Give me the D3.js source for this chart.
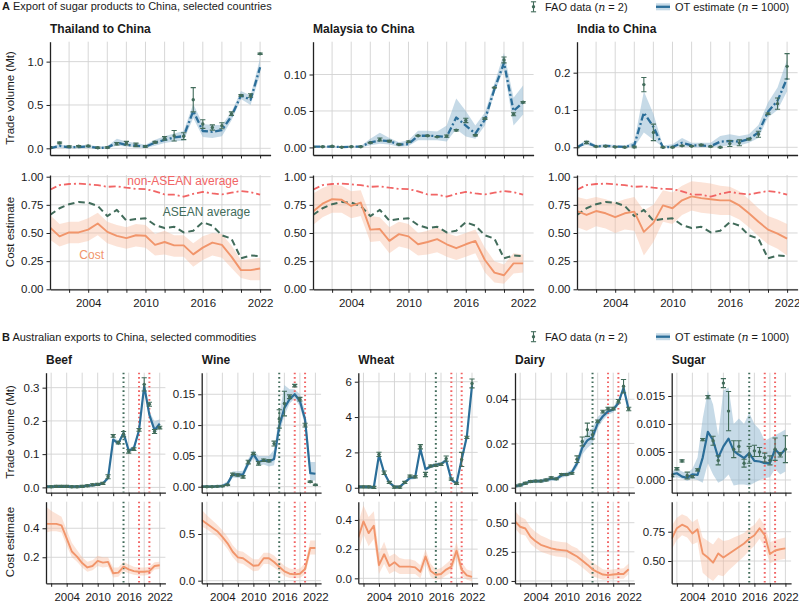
<!DOCTYPE html>
<html><head><meta charset="utf-8">
<script src="https://cdn.jsdelivr.net/npm/d3@7"></script>
<style>body{margin:0;background:#fff}svg{display:block}text{font-family:"Liberation Sans",Arial,Helvetica,sans-serif;fill:#1a1a1a}</style>
</head><body><svg id="c" width="799" height="602"></svg>
<script>
// ---------------- DATA ----------------
const years = [2000,2001,2002,2003,2004,2005,2006,2007,2008,2009,2010,2011,2012,2013,2014,2015,2016,2017,2018,2019,2020,2021,2022];
const labelYears = [2004,2010,2016,2022];
const ticksA = [2002,2004,2006,2008,2010,2012,2014,2016,2018,2020,2022];
const ticksB = [2001,2004,2007,2010,2013,2016,2019,2022];
const policyGreen = [2015];
const policyRed = [2018,2020];

// Panel A: trade volume (Mt)
const thaiFao = [0.01,0.062,0.02,0.025,0.028,0.006,0.01,0.053,0.06,0.04,0.022,0.07,0.115,0.145,0.14,0.56,0.28,0.24,0.26,0.40,0.61,0.61,1.09];
const thaiErr = [0.01,0.01,0.008,0.008,0.008,0.008,0.008,0.015,0.02,0.02,0.01,0.01,0.02,0.06,0.04,0.14,0.05,0.03,0.035,0.02,0.01,0.02,0.008];
const thaiOt = [0.0,0.027,0.012,0.015,0.023,0.004,0.008,0.065,0.04,0.03,0.018,0.065,0.096,0.127,0.14,0.43,0.2,0.19,0.21,0.37,0.61,0.56,0.935];
const thaiLo = [0,0.005,0,0,0.005,0,0,0.03,0.02,0.01,0.005,0.03,0.06,0.08,0.09,0.35,0.13,0.12,0.14,0.32,0.57,0.5,0.85];
const thaiHi = [0.02,0.045,0.03,0.03,0.04,0.02,0.025,0.11,0.08,0.06,0.04,0.1,0.14,0.17,0.2,0.51,0.28,0.27,0.27,0.42,0.66,0.61,1.04];

const malFao = [0.0005,0.001,0.0015,0.0003,0.001,0.001,0.0064,0.011,0.0086,0.004,0.0077,0.016,0.016,0.0145,0.0155,0.0236,0.037,0.0168,0.0395,0.082,0.12,0.0455,0.062];
const malErr = [0.0005,0.0005,0.0005,0.0005,0.0005,0.0005,0.0005,0.002,0.001,0.0005,0.001,0.0005,0.0005,0.0005,0.0015,0.001,0.003,0.001,0.001,0.0005,0.004,0.002,0.001];
const malOt = [0.001,0.001,0.001,0.0005,0.001,0.001,0.007,0.0095,0.0085,0.004,0.0045,0.016,0.016,0.0155,0.0145,0.041,0.03,0.019,0.038,0.08,0.116,0.05,0.062];
const malLo = [0,0,0,0,0,0,0.003,0.005,0.004,0.001,0.002,0.01,0.01,0.01,0.008,0.025,0.015,0.012,0.03,0.075,0.108,0.03,0.045];
const malHi = [0.002,0.002,0.002,0.002,0.002,0.002,0.012,0.02,0.013,0.007,0.01,0.023,0.023,0.022,0.03,0.067,0.05,0.03,0.048,0.088,0.13,0.068,0.085];

const indFao = [0.0,0.013,0.002,0.003,0.001,0.0,0.001,0.168,0.04,0.0,0.0,0.004,0.003,0.006,0.002,0.0,0.01,0.012,0.022,0.035,0.09,0.117,0.217];
const indErr = [0.001,0.003,0.001,0.001,0.001,0.001,0.002,0.019,0.022,0.001,0.001,0.001,0.001,0.002,0.001,0.001,0.008,0.008,0.002,0.008,0.002,0.015,0.034];
const indOt = [0.0,0.013,0.002,0.004,0.002,0.001,0.006,0.093,0.055,0.0,0.001,0.012,0.005,0.005,0.003,0.015,0.017,0.015,0.022,0.04,0.095,0.125,0.185];
const indLo = [0,0.006,0,0,0,0,0,0.04,0.02,0,0,0.003,0,0,0,0.003,0.005,0.005,0.012,0.025,0.08,0.1,0.15];
const indHi = [0.004,0.02,0.006,0.008,0.006,0.004,0.015,0.15,0.09,0.005,0.008,0.025,0.012,0.012,0.012,0.03,0.035,0.03,0.035,0.06,0.12,0.16,0.235];

// Panel A: cost estimates
const nonAsean = [0.885,0.925,0.935,0.938,0.932,0.925,0.91,0.915,0.902,0.892,0.89,0.87,0.842,0.84,0.822,0.848,0.865,0.852,0.843,0.858,0.873,0.862,0.84];
const asean = [0.66,0.72,0.755,0.775,0.77,0.74,0.65,0.705,0.61,0.625,0.63,0.57,0.545,0.555,0.505,0.52,0.595,0.565,0.48,0.45,0.275,0.30,0.295];
const thaiCost = [0.55,0.47,0.505,0.505,0.53,0.585,0.51,0.475,0.455,0.48,0.475,0.395,0.42,0.39,0.39,0.31,0.37,0.415,0.395,0.29,0.17,0.17,0.185];
const thaiCostLo = [0.44,0.38,0.41,0.41,0.43,0.48,0.41,0.38,0.36,0.38,0.37,0.3,0.31,0.29,0.29,0.2,0.26,0.3,0.28,0.19,0.1,0.08,0.08];
const thaiCostHi = [0.66,0.58,0.6,0.6,0.63,0.68,0.6,0.57,0.55,0.58,0.57,0.49,0.52,0.48,0.48,0.41,0.47,0.5,0.49,0.39,0.26,0.27,0.28];
const malCost = [0.69,0.76,0.80,0.795,0.74,0.77,0.53,0.535,0.43,0.49,0.47,0.40,0.42,0.445,0.40,0.365,0.40,0.43,0.26,0.148,0.125,0.23,0.23];
const malCostLo = [0.57,0.64,0.68,0.68,0.63,0.65,0.42,0.43,0.32,0.38,0.36,0.3,0.31,0.33,0.29,0.26,0.29,0.32,0.15,0.06,0.05,0.14,0.15];
const malCostHi = [0.85,0.9,0.93,0.92,0.87,0.88,0.65,0.64,0.55,0.6,0.58,0.5,0.52,0.55,0.5,0.47,0.5,0.53,0.37,0.25,0.22,0.32,0.31];
const indCost = [0.695,0.66,0.695,0.675,0.64,0.675,0.69,0.51,0.59,0.745,0.72,0.79,0.825,0.81,0.80,0.79,0.79,0.745,0.675,0.60,0.53,0.495,0.45];
const indCostLo = [0.55,0.52,0.56,0.54,0.5,0.53,0.52,0.3,0.42,0.6,0.58,0.66,0.7,0.68,0.67,0.66,0.66,0.62,0.55,0.47,0.4,0.36,0.3];
const indCostHi = [0.82,0.8,0.82,0.8,0.77,0.8,0.82,0.7,0.75,0.88,0.86,0.92,0.96,0.95,0.94,0.92,0.91,0.87,0.8,0.72,0.65,0.62,0.58];

// Panel B: trade volume (Mt)
const beefFao = [0.002,0.002,0.003,0.003,0.003,0.002,0.002,0.003,0.005,0.008,0.009,0.012,0.032,0.155,0.135,0.16,0.108,0.115,0.173,0.31,0.25,0.168,0.18];
const beefErr = [0.003,0.003,0.003,0.003,0.003,0.003,0.003,0.003,0.003,0.003,0.003,0.003,0.006,0.004,0.004,0.008,0.005,0.004,0.004,0.02,0.006,0.006,0.004];
const beefOt = [0.002,0.002,0.002,0.002,0.002,0.002,0.002,0.003,0.005,0.006,0.008,0.012,0.028,0.144,0.132,0.164,0.11,0.118,0.172,0.305,0.218,0.172,0.192];
const beefLo = [0,0,0,0,0,0,0,0.001,0.003,0.004,0.006,0.009,0.022,0.138,0.126,0.156,0.104,0.112,0.165,0.295,0.21,0.163,0.178];
const beefHi = [0.005,0.005,0.005,0.005,0.005,0.005,0.005,0.006,0.008,0.009,0.011,0.016,0.035,0.152,0.14,0.17,0.117,0.125,0.18,0.315,0.228,0.198,0.205];

const wineFao = [0.0,0.0,0.0,0.0005,0.001,0.003,0.02,0.019,0.016,0.04,0.054,0.038,0.043,0.042,0.07,0.11,0.135,0.146,0.164,0.142,0.10,0.008,0.003];
const wineErr = [0.001,0.001,0.001,0.001,0.001,0.001,0.002,0.002,0.002,0.003,0.002,0.003,0.002,0.002,0.004,0.015,0.02,0.003,0.002,0.003,0.003,0.001,0.001];
const wineOt = [0.0,0.0,0.0,0.0005,0.001,0.005,0.02,0.019,0.02,0.038,0.053,0.04,0.043,0.041,0.045,0.098,0.128,0.142,0.15,0.139,0.109,0.022,0.021];
const wineLo = [0,0,0,0,0,0.002,0.015,0.014,0.015,0.032,0.046,0.034,0.036,0.033,0.035,0.085,0.115,0.135,0.143,0.13,0.098,0.01,0.01];
const wineHi = [0.002,0.002,0.002,0.003,0.004,0.009,0.025,0.025,0.026,0.045,0.06,0.05,0.05,0.05,0.06,0.115,0.165,0.158,0.158,0.15,0.122,0.04,0.04];

const wheatFao = [0.05,0.05,0.05,0.02,1.89,0.85,0.3,0.03,0.03,0.3,0.66,0.62,2.32,0.75,1.23,1.26,1.32,1.65,0.49,0.25,1.6,2.85,5.9];
const wheatErr = [0.06,0.06,0.06,0.06,0.12,0.1,0.06,0.06,0.06,0.06,0.06,0.06,0.12,0.12,0.06,0.06,0.06,0.15,0.06,0.06,0.4,0.06,0.25];
const wheatOt = [0.05,0.05,0.04,0.03,1.85,0.85,0.3,0.05,0.05,0.3,0.55,0.6,2.2,1.05,1.2,1.3,1.35,1.55,0.45,0.25,1.6,2.9,5.8];
const wheatLo = [0,0,0,0,1.75,0.75,0.2,0,0,0.2,0.45,0.5,2.08,0.95,1.1,1.2,1.25,1.42,0.35,0.15,1.45,2.75,5.6];
const wheatHi = [0.12,0.12,0.11,0.1,1.97,0.95,0.4,0.12,0.12,0.4,0.65,0.7,2.32,1.15,1.3,1.4,1.45,1.68,0.55,0.35,1.75,3.05,6.0];

const dairyFao = [0.0008,0.0012,0.002,0.0028,0.003,0.003,0.0035,0.0045,0.004,0.006,0.006,0.0065,0.0129,0.0209,0.0262,0.024,0.030,0.0344,0.0358,0.0358,0.0391,0.0459,0.0356];
const dairyErr = [0.0004,0.0004,0.0004,0.0004,0.0004,0.0004,0.0004,0.0004,0.0004,0.0004,0.0004,0.0004,0.0015,0.002,0.003,0.002,0.0006,0.0006,0.0006,0.0006,0.0008,0.003,0.0008];
const dairyOt = [0.0008,0.001,0.002,0.0028,0.003,0.003,0.0035,0.004,0.004,0.0055,0.006,0.007,0.011,0.018,0.0214,0.0229,0.0292,0.0323,0.0345,0.0353,0.0383,0.0452,0.0353];
const dairyLo = [0,0.0002,0.0012,0.002,0.0022,0.0022,0.0026,0.003,0.003,0.0045,0.005,0.0058,0.009,0.015,0.018,0.02,0.027,0.0305,0.033,0.034,0.037,0.044,0.034];
const dairyHi = [0.0016,0.0018,0.0028,0.0036,0.0038,0.0038,0.0044,0.005,0.005,0.0065,0.007,0.0082,0.013,0.021,0.0248,0.027,0.032,0.0341,0.036,0.0366,0.0396,0.0464,0.0366];

const sugarFao = [0.0008,0.002,0.0034,0.0008,0.0006,0.0018,0.0072,0.0148,0.007,0.0035,0.0173,0.0123,0.0055,0.006,0.003,0.0045,0.0052,0.005,0.004,0.0035,0.0055,0.0045,0.0055];
const sugarErr = [0.0002,0.0002,0.0002,0.0006,0.0002,0.0002,0.0002,0.0003,0.0008,0.0008,0.0008,0.0035,0.0015,0.001,0.0007,0.0015,0.001,0.0008,0.0008,0.0008,0.002,0.0004,0.0024];
const sugarOt = [0.001,0.0012,0.0006,0.0004,0.001,0.0009,0.004,0.0086,0.0071,0.004,0.006,0.0074,0.0052,0.0045,0.0039,0.0048,0.0034,0.0033,0.003,0.003,0.0055,0.0045,0.0055];
const sugarLo = [0.0003,0.0005,0.0002,-0.0002,0.0002,0.0,-0.0005,0.003,0.001,-0.0005,0.0,0.001,-0.001,-0.0008,-0.0008,-0.001,-0.0005,0.0,0.0003,0.0005,0.002,0.001,0.0015];
const sugarHi = [0.0015,0.002,0.0015,0.0012,0.002,0.004,0.011,0.016,0.0135,0.008,0.016,0.0165,0.01,0.011,0.01,0.012,0.01,0.009,0.007,0.0075,0.008,0.0085,0.009];

// Panel B: cost estimates
const beefCost = [0.43,0.43,0.43,0.42,0.33,0.24,0.205,0.16,0.13,0.14,0.175,0.163,0.168,0.09,0.094,0.135,0.117,0.105,0.1,0.1,0.105,0.14,0.145];
const beefCostLo = [0.37,0.38,0.38,0.37,0.28,0.2,0.17,0.13,0.1,0.11,0.14,0.13,0.135,0.06,0.065,0.105,0.09,0.08,0.075,0.075,0.08,0.115,0.12];
const beefCostHi = [0.55,0.52,0.5,0.48,0.39,0.3,0.25,0.2,0.17,0.18,0.21,0.2,0.2,0.13,0.13,0.17,0.15,0.135,0.13,0.13,0.135,0.165,0.17];
const wineCost = [0.65,0.61,0.57,0.53,0.47,0.4,0.31,0.25,0.24,0.2,0.16,0.165,0.24,0.24,0.2,0.15,0.1,0.075,0.068,0.075,0.125,0.35,0.35];
const wineCostLo = [0.58,0.55,0.51,0.47,0.41,0.34,0.25,0.19,0.18,0.14,0.1,0.11,0.18,0.18,0.14,0.1,0.05,0.03,0.025,0.03,0.07,0.28,0.28];
const wineCostHi = [0.76,0.7,0.65,0.6,0.54,0.47,0.38,0.32,0.31,0.27,0.23,0.23,0.3,0.3,0.27,0.21,0.16,0.13,0.12,0.13,0.19,0.43,0.43];
const wheatCost = [0.28,0.39,0.31,0.36,0.09,0.165,0.085,0.11,0.08,0.08,0.08,0.075,0.045,0.15,0.05,0.025,0.03,0.06,0.08,0.19,0.06,0.02,0.01];
const wheatCostLo = [0.18,0.3,0.22,0.27,0.03,0.1,0.03,0.05,0.03,0.03,0.03,0.03,0.0,0.1,0.01,-0.01,-0.005,0.02,0.04,0.14,0.02,-0.01,-0.02];
const wheatCostHi = [0.38,0.5,0.42,0.46,0.17,0.25,0.15,0.17,0.14,0.13,0.13,0.12,0.09,0.2,0.1,0.06,0.07,0.1,0.13,0.25,0.11,0.06,0.05];
const dairyCost = [0.51,0.465,0.45,0.38,0.34,0.31,0.295,0.28,0.27,0.265,0.26,0.235,0.21,0.175,0.14,0.1,0.075,0.055,0.05,0.055,0.06,0.06,0.1];
const dairyCostLo = [0.45,0.4,0.39,0.32,0.28,0.25,0.235,0.22,0.21,0.205,0.2,0.175,0.15,0.115,0.08,0.04,0.025,0.01,0.01,0.015,0.02,0.02,0.06];
const dairyCostHi = [0.6,0.55,0.53,0.46,0.42,0.39,0.37,0.35,0.34,0.335,0.33,0.3,0.28,0.24,0.2,0.16,0.13,0.1,0.095,0.1,0.105,0.11,0.15];
const sugarCost = [0.69,0.78,0.81,0.79,0.735,0.77,0.565,0.53,0.486,0.565,0.53,0.56,0.59,0.62,0.65,0.69,0.72,0.78,0.72,0.56,0.59,0.6,0.608];
const sugarCostLo = [0.6,0.68,0.72,0.7,0.64,0.66,0.4,0.36,0.33,0.38,0.37,0.42,0.46,0.5,0.54,0.59,0.63,0.69,0.62,0.48,0.5,0.51,0.52];
const sugarCostHi = [0.8,0.87,0.9,0.88,0.83,0.86,0.7,0.67,0.64,0.7,0.67,0.68,0.7,0.72,0.74,0.78,0.81,0.87,0.8,0.66,0.68,0.69,0.7];

// ---------------- STYLE ----------------
const C_FAO = "#426c5b", C_OT = "#2b6e99", C_BAND = "#8db6cf";
const C_COST = "#f1956b", C_CBAND = "#f7b89a", C_RED = "#f16565", C_GRID = "#d2d2d2";
const FONT = 11.5;

const svg = d3.select("#c");
let clipN = 0;

function frame(o) {
  const x = d3.scaleLinear().domain([2000, 2023.1]).range([o.left, o.left + o.w]);
  const y = d3.scaleLinear().domain(o.yd).range([o.bottom, o.top]);
  const g = svg.append("g");
  g.append("g").selectAll("line").data(o.xGrid).join("line")
    .attr("x1", d => x(d)).attr("x2", d => x(d)).attr("y1", o.top).attr("y2", o.bottom)
    .attr("stroke", C_GRID).attr("stroke-width", 0.9);
  g.append("g").selectAll("line").data(o.yTicks).join("line")
    .attr("x1", o.left).attr("x2", o.left + o.w).attr("y1", d => y(d)).attr("y2", d => y(d))
    .attr("stroke", C_GRID).attr("stroke-width", 0.9);
  const id = "clip" + (clipN++);
  svg.append("clipPath").attr("id", id).append("rect")
    .attr("x", o.left).attr("y", o.top - 2).attr("width", o.w).attr("height", o.bottom - o.top + 2);
  const inner = g.append("g").attr("clip-path", `url(#${id})`);
  return {x, y, g, inner, o};
}

function axes(f) {
  const {x, y, g, o} = f;
  const ax = d3.axisBottom(x).tickValues(o.xTicks).tickSize(3.5).tickSizeOuter(0).tickPadding(6)
    .tickFormat(d => (o.xLabels && labelYears.includes(d)) ? String(d) : "");
  const gx = g.append("g").attr("transform", `translate(0,${o.bottom})`).call(ax);
  const ay = d3.axisLeft(y).tickValues(o.yTicks).tickSize(3.5).tickSizeOuter(0).tickPadding(3).tickFormat(o.yFmt);
  const gy = g.append("g").attr("transform", `translate(${o.left},0)`).call(ay);
  [gx, gy].forEach(a => {
    a.select(".domain").attr("stroke", "#222").attr("stroke-width", 1.3);
    a.selectAll(".tick line").attr("stroke", "#222").attr("stroke-width", 1);
    a.selectAll(".tick text").attr("font-size", FONT).attr("font-family", '"Liberation Sans",Arial,sans-serif').attr("fill", "#1a1a1a");
  });
}

function band(f, lo, hi, color, op) {
  const area = d3.area().x((d, i) => f.x(years[i])).y0((d, i) => f.y(lo[i])).y1((d, i) => f.y(hi[i]));
  f.inner.append("path").datum(years).attr("d", area).attr("fill", color).attr("fill-opacity", op);
}
function line(f, vals, color, w, dash) {
  const ln = d3.line().x((d, i) => f.x(years[i])).y((d, i) => f.y(vals[i]));
  f.inner.append("path").datum(years).attr("d", ln).attr("fill", "none").attr("stroke", color)
    .attr("stroke-width", w).attr("stroke-dasharray", dash || null).attr("stroke-linejoin", "round");
}
function fao(f, vals, errs) {
  const gg = f.inner.append("g");
  const pts = years.map((yr, i) => ({cx: f.x(yr), v: vals[i], e: errs[i]}));
  gg.selectAll("line.v").data(pts).join("line").attr("class", "v")
    .attr("x1", d => d.cx).attr("x2", d => d.cx).attr("y1", d => f.y(d.v - d.e)).attr("y2", d => f.y(d.v + d.e))
    .attr("stroke", C_FAO).attr("stroke-width", 1.1);
  gg.selectAll("line.lo").data(pts).join("line").attr("class", "lo")
    .attr("x1", d => d.cx - 2.6).attr("x2", d => d.cx + 2.6).attr("y1", d => f.y(d.v - d.e)).attr("y2", d => f.y(d.v - d.e))
    .attr("stroke", C_FAO).attr("stroke-width", 1.1);
  gg.selectAll("line.hi").data(pts).join("line").attr("class", "hi")
    .attr("x1", d => d.cx - 2.6).attr("x2", d => d.cx + 2.6).attr("y1", d => f.y(d.v + d.e)).attr("y2", d => f.y(d.v + d.e))
    .attr("stroke", C_FAO).attr("stroke-width", 1.1);
  gg.selectAll("circle").data(pts).join("circle")
    .attr("cx", d => d.cx).attr("cy", d => f.y(d.v)).attr("r", 1.7).attr("fill", C_FAO);
}
function vlines(f) {
  const o = f.o;
  f.inner.selectAll("line.pg").data(policyGreen).join("line").attr("class", "pg")
    .attr("x1", d => f.x(d)).attr("x2", d => f.x(d)).attr("y1", o.top).attr("y2", o.bottom)
    .attr("stroke", C_FAO).attr("stroke-width", 2).attr("stroke-dasharray", "1.6,2.8");
  f.inner.selectAll("line.pr").data(policyRed).join("line").attr("class", "pr")
    .attr("x1", d => f.x(d)).attr("x2", d => f.x(d)).attr("y1", o.top).attr("y2", o.bottom)
    .attr("stroke", C_RED).attr("stroke-width", 2).attr("stroke-dasharray", "1.6,2.8");
}
function txt(x, y, s, opts = {}) {
  const t = svg.append("text").attr("x", x).attr("y", y).attr("font-size", opts.size || FONT)
    .attr("font-weight", opts.bold ? "bold" : null).attr("text-anchor", opts.anchor || "start").text(s);
  if (opts.fill) t.style("fill", opts.fill);
  if (opts.rotate) t.attr("transform", `rotate(-90,${x},${y})`);
  return t;
}

// ---------------- PANEL A ----------------
const aLeft = [50, 313, 577], aW = 220.6;
const aTop = {top: 41.7, bottom: 155}, aBot = {top: 175, bottom: 289.3};
const aTrade = [
  {name: "Thailand to China", yd: [-0.077, 1.23], yt: [0, 0.5, 1.0], fmt: d3.format(".1f"), f: thaiFao, e: thaiErr, ot: thaiOt, lo: thaiLo, hi: thaiHi,
   c: thaiCost, cl: thaiCostLo, ch: thaiCostHi},
  {name: "Malaysia to China", yd: [-0.0104, 0.145], yt: [0, 0.05, 0.10], fmt: d3.format(".2f"), f: malFao, e: malErr, ot: malOt, lo: malLo, hi: malHi,
   c: malCost, cl: malCostLo, ch: malCostHi},
  {name: "India to China", yd: [-0.0206, 0.283], yt: [0, 0.1, 0.2], fmt: d3.format(".1f"), f: indFao, e: indErr, ot: indOt, lo: indLo, hi: indHi,
   c: indCost, cl: indCostLo, ch: indCostHi}
];
aTrade.forEach((s, k) => {
  const f = frame({left: aLeft[k], w: aW, top: aTop.top, bottom: aTop.bottom, yd: s.yd, yTicks: s.yt, yFmt: s.fmt,
    xGrid: ticksA, xTicks: ticksA, xLabels: false});
  band(f, s.lo, s.hi, C_BAND, 0.5);
  line(f, s.ot, C_OT, 2.3, "7,2.6,2,2.6");
  fao(f, s.f, s.e);
  axes(f);
  txt(aLeft[k], 32.5, s.name, {bold: true, size: 12});

  const g2 = frame({left: aLeft[k], w: aW, top: aBot.top, bottom: aBot.bottom, yd: [0, 1.015], yTicks: [0, 0.25, 0.5, 0.75, 1.0],
    yFmt: d3.format(".2f"), xGrid: ticksA, xTicks: ticksA, xLabels: true});
  band(g2, s.cl, s.ch, C_CBAND, 0.4);
  line(g2, nonAsean, C_RED, 1.8, "7,3,2,3");
  line(g2, asean, C_FAO, 2, "6.5,4");
  line(g2, s.c, C_COST, 1.9);
  axes(g2);
});
txt(183, 184.5, "non-ASEAN average", {anchor: "middle", size: 12, fill: C_RED});
txt(206.5, 216, "ASEAN average", {anchor: "middle", size: 12, fill: C_FAO});
txt(91.7, 258.5, "Cost", {anchor: "middle", size: 12, fill: C_COST});

// ---------------- PANEL B ----------------
const bLeft = [46, 201.7, 358.3, 515, 671.7], bW = 119.4;
const bTop = {top: 372.7, bottom: 492.7}, bBot = {top: 501.7, bottom: 583.3};
const bSeries = [
  {name: "Beef", yd: [-0.016, 0.345], yt: [0, 0.1, 0.2, 0.3], fmt: d3.format(".1f"), f: beefFao, e: beefErr, ot: beefOt, lo: beefLo, hi: beefHi,
   cyd: [0.0207, 0.583], cyt: [0.2, 0.4], cfmt: d3.format(".1f"), c: beefCost, cl: beefCostLo, ch: beefCostHi},
  {name: "Wine", yd: [-0.0097, 0.185], yt: [0, 0.05, 0.10, 0.15], fmt: d3.format(".2f"), f: wineFao, e: wineErr, ot: wineOt, lo: wineLo, hi: wineHi,
   cyd: [-0.028, 0.846], cyt: [0, 0.5], cfmt: d3.format(".1f"), c: wineCost, cl: wineCostLo, ch: wineCostHi},
  {name: "Wheat", yd: [-0.28, 6.51], yt: [0, 2, 4, 6], fmt: d3.format("d"), f: wheatFao, e: wheatErr, ot: wheatOt, lo: wheatLo, hi: wheatHi,
   cyd: [-0.034, 0.525], cyt: [0, 0.2, 0.4], cfmt: d3.format(".1f"), c: wheatCost, cl: wheatCostLo, ch: wheatCostHi},
  {name: "Dairy", yd: [-0.00226, 0.052], yt: [0, 0.02, 0.04], fmt: d3.format(".2f"), f: dairyFao, e: dairyErr, ot: dairyOt, lo: dairyLo, hi: dairyHi,
   cyd: [-0.02, 0.68], cyt: [0, 0.25, 0.5], cfmt: d3.format(".2f"), c: dairyCost, cl: dairyCostLo, ch: dairyCostHi},
  {name: "Sugar", yd: [-0.00227, 0.01916], yt: [0, 0.005, 0.010, 0.015], fmt: d3.format(".3f"), f: sugarFao, e: sugarErr, ot: sugarOt, lo: sugarLo, hi: sugarHi,
   cyd: [0.31, 1.006], cyt: [0.5, 0.75], cfmt: d3.format(".2f"), c: sugarCost, cl: sugarCostLo, ch: sugarCostHi}
];
bSeries.forEach((s, k) => {
  const f = frame({left: bLeft[k], w: bW, top: bTop.top, bottom: bTop.bottom, yd: s.yd, yTicks: s.yt, yFmt: s.fmt,
    xGrid: ticksB, xTicks: ticksB, xLabels: false});
  band(f, s.lo, s.hi, C_BAND, 0.5);
  vlines(f);
  line(f, s.ot, C_OT, 2.2);
  fao(f, s.f, s.e);
  axes(f);
  txt(bLeft[k], 364, s.name, {bold: true, size: 12});

  const g2 = frame({left: bLeft[k], w: bW, top: bBot.top, bottom: bBot.bottom, yd: s.cyd, yTicks: s.cyt, yFmt: s.cfmt,
    xGrid: ticksB, xTicks: ticksB, xLabels: true});
  band(g2, s.cl, s.ch, C_CBAND, 0.4);
  vlines(g2);
  line(g2, s.c, C_COST, 1.9);
  axes(g2);
});

// ---------------- TITLES, LABELS, LEGENDS ----------------
const tA = txt(2, 9.5, "", {size: 11});
tA.append("tspan").attr("font-weight", "bold").text("A");
tA.append("tspan").text(" Export of sugar products to China, selected countries");
const tB = txt(2, 340.5, "", {size: 11});
tB.append("tspan").attr("font-weight", "bold").text("B");
tB.append("tspan").text(" Australian exports to China, selected commodities");

txt(14, 98, "Trade volume (Mt)", {anchor: "middle", rotate: true});
txt(14, 232, "Cost estimate", {anchor: "middle", rotate: true});
txt(14, 432, "Trade volume (Mt)", {anchor: "middle", rotate: true});
txt(14, 542, "Cost estimate", {anchor: "middle", rotate: true});

function legend(yc) {
  const g = svg.append("g");
  const ex = 533.5;
  g.append("line").attr("x1", ex).attr("x2", ex).attr("y1", yc - 5).attr("y2", yc + 5).attr("stroke", C_FAO).attr("stroke-width", 1.1);
  [yc - 5, yc + 5].forEach(v => g.append("line").attr("x1", ex - 2.6).attr("x2", ex + 2.6).attr("y1", v).attr("y2", v).attr("stroke", C_FAO).attr("stroke-width", 1.1));
  g.append("circle").attr("cx", ex).attr("cy", yc).attr("r", 1.7).attr("fill", C_FAO);
  const t1 = txt(545, yc + 4, "", {size: 11});
  t1.append("tspan").text("FAO data (");
  t1.append("tspan").attr("font-style", "italic").attr("font-family", '"DejaVu Serif",serif').text("n");
  t1.append("tspan").text(" = 2)");
  g.append("rect").attr("x", 656).attr("y", yc - 3.5).attr("width", 14).attr("height", 7).attr("fill", C_BAND).attr("fill-opacity", 0.5);
  g.append("line").attr("x1", 656).attr("x2", 670).attr("y1", yc).attr("y2", yc).attr("stroke", C_OT).attr("stroke-width", 2.3);
  const t2 = txt(675, yc + 4, "", {size: 11});
  t2.append("tspan").text("OT estimate (");
  t2.append("tspan").attr("font-style", "italic").attr("font-family", '"DejaVu Serif",serif').text("n");
  t2.append("tspan").text(" = 1000)");
}
legend(6.8);
legend(336.7);
</script></body></html>
